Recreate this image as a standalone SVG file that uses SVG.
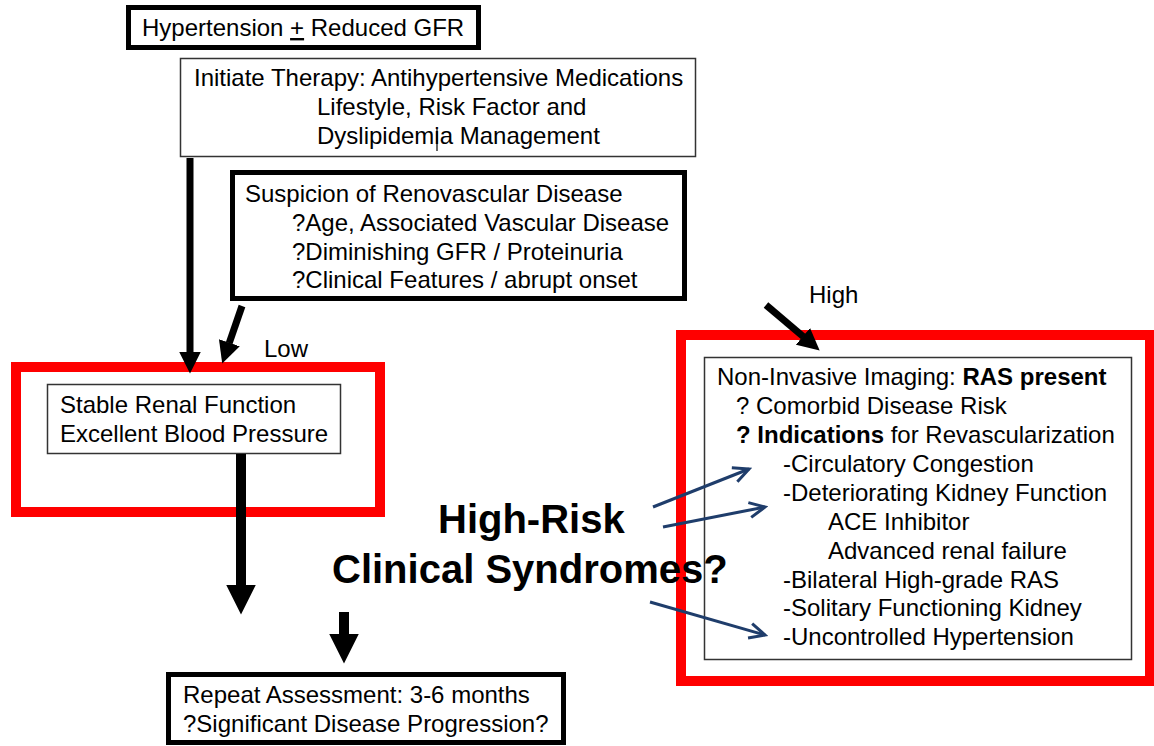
<svg xmlns="http://www.w3.org/2000/svg" width="1154" height="746" viewBox="0 0 1154 746">
<style>
text{font-family:"Liberation Sans",Arial,sans-serif;font-size:24px;fill:#000}
.b{font-weight:bold}
.big{font-size:40px;font-weight:bold}
.thick{fill:#fff;stroke:#000;stroke-width:5}
.thin{fill:#fff;stroke:#333;stroke-width:1.5}
.red{fill:none;stroke:#ff0000;stroke-width:10}
.blk{stroke:#000;fill:none}
.blue{stroke:#1f3d6b;stroke-width:3;fill:none}
</style>
<defs>
<marker id="ah" viewBox="0 0 22 22" markerWidth="22" markerHeight="22" markerUnits="userSpaceOnUse" refX="0.5" refY="11" orient="auto"><path d="M0,0 L22,11 L0,22 z" fill="#000"/></marker>
<marker id="ahBig" viewBox="0 0 30 30" markerWidth="30" markerHeight="30" markerUnits="userSpaceOnUse" refX="0.5" refY="15" orient="auto"><path d="M0,0 L30,15 L0,30 z" fill="#000"/></marker>
<marker id="ahOpen" viewBox="0 0 20 18" markerWidth="20" markerHeight="18" markerUnits="userSpaceOnUse" refX="17" refY="9" orient="auto"><path d="M1.5,1.5 L17,9 L1.5,16.5" fill="none" stroke="#1f3d6b" stroke-width="3" stroke-linejoin="miter"/></marker>
</defs>

<g id="n-hypertension">
<rect class="thick" x="128.5" y="7.5" width="350" height="40"/>
<text x="142" y="36">Hypertension <tspan text-decoration="underline">+</tspan> Reduced GFR</text>
</g>

<g id="n-therapy">
<rect class="thin" x="180.5" y="58.5" width="515" height="98"/>
<text x="194" y="86">Initiate Therapy: Antihypertensive Medications</text>
<text x="317" y="115">Lifestyle, Risk Factor and</text>
<text x="317" y="144">Dyslipidemia Management</text>
<line x1="437" y1="129" x2="437" y2="151" stroke="#000" stroke-width="1.2"/>
</g>

<g id="n-suspicion">
<rect class="thick" x="232.5" y="172.5" width="452" height="126"/>
<text x="245" y="202">Suspicion of Renovascular Disease</text>
<text x="292" y="231">?Age, Associated Vascular Disease</text>
<text x="292" y="260">?Diminishing GFR / Proteinuria</text>
<text x="292" y="288">?Clinical Features / abrupt onset</text>
</g>

<g id="n-stable">
<rect class="red" x="16" y="367" width="364" height="145"/>
<rect class="thin" x="47.5" y="384.5" width="293" height="69"/>
<text x="60" y="413">Stable Renal Function</text>
<text x="60" y="442">Excellent Blood Pressure</text>
</g>

<g id="n-repeat">
<rect class="thick" x="168.5" y="674.5" width="395" height="68"/>
<text x="183" y="703">Repeat Assessment: 3-6 months</text>
<text x="183" y="732">?Significant Disease Progression?</text>
</g>

<g id="n-imaging">
<rect class="red" x="681" y="335" width="469" height="346"/>
<rect class="thin" x="704.5" y="357.5" width="427" height="302"/>
<text x="717" y="385">Non-Invasive Imaging: <tspan class="b">RAS present</tspan></text>
<text x="736" y="414">? Comorbid Disease Risk</text>
<text x="736" y="443"><tspan class="b">? Indications</tspan> for Revascularization</text>
<text x="783" y="472">-Circulatory Congestion</text>
<text x="783" y="501">-Deteriorating Kidney Function</text>
<text x="828" y="530">ACE Inhibitor</text>
<text x="828" y="559">Advanced renal failure</text>
<text x="783" y="588">-Bilateral High-grade RAS</text>
<text x="783" y="616">-Solitary Functioning Kidney</text>
<text x="783" y="645">-Uncontrolled Hypertension</text>
</g>

<g id="n-highrisk">
<text class="big" x="438" y="533">High-Risk</text>
<text class="big" x="332" y="583">Clinical Syndromes?</text>
</g>

<g id="labels">
<text x="264" y="357">Low</text>
<text x="809" y="303">High</text>
</g>

<g id="connectors">
<line class="blk" x1="190" y1="158" x2="190" y2="352" stroke-width="7" marker-end="url(#ah)"/>
<line class="blk" x1="242" y1="306" x2="229.2" y2="343.2" stroke-width="7" marker-end="url(#ah)"/>
<line class="blk" x1="766" y1="305" x2="803.3" y2="336.7" stroke-width="7" marker-end="url(#ah)"/>
<line class="blk" x1="241" y1="454" x2="241" y2="585" stroke-width="10" marker-end="url(#ahBig)"/>
<line class="blk" x1="344" y1="612" x2="344" y2="634" stroke-width="10" marker-end="url(#ahBig)"/>
<line class="blue" x1="653" y1="507" x2="749" y2="469" marker-end="url(#ahOpen)"/>
<line class="blue" x1="663" y1="527" x2="765" y2="507" marker-end="url(#ahOpen)"/>
<line class="blue" x1="650" y1="602" x2="765" y2="635" marker-end="url(#ahOpen)"/>
</g>
</svg>
